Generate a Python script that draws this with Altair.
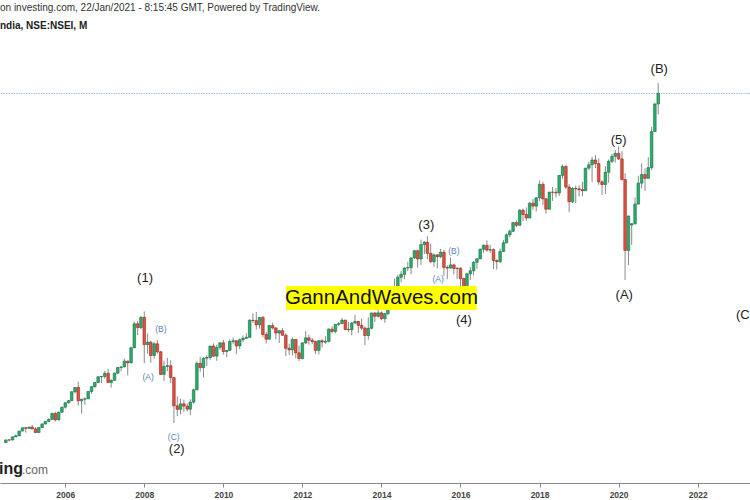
import altair as alt
import pandas as pd

# ---------------- data: monthly NIFTY 50 candles (Jul 2004 .. Jan 2021) ----------------
FIRST_MONTH = "2004-07-01"
opens = [
    1537, 1632, 1631, 1746, 1786, 1958,
    2080, 2057, 2103, 2036, 1902, 2087, 2221, 2312, 2385, 2601, 2371, 2652,
    2837, 3001, 3075, 3403, 3558, 3071, 3128, 3143, 3413, 3588, 3744, 3955,
    3966, 4082, 3745, 3822, 4087, 4295, 4318, 4529, 4464, 5021, 5901, 5763,
    6139, 5137, 5224, 4735, 5165, 4870, 4040, 4333, 4360, 3921, 2885, 2755,
    2959, 2874, 2763, 3021, 3473, 4449, 4291, 4636, 4662, 5084, 4712, 5033,
    5201, 4882, 4922, 5249, 5278, 5087, 5313, 5368, 5402, 6030, 6018, 5863,
    6135, 5506, 5333, 5834, 5749, 5561, 5647, 5482, 5001, 4943, 5326, 4832,
    4624, 5199, 5385, 5296, 5248, 4924, 5279, 5229, 5258, 5703, 5619, 5880,
    5905, 6035, 5693, 5682, 5930, 5986, 5842, 5742, 5471, 5735, 6299, 6176,
    6304, 6089, 6277, 6704, 6696, 7230, 7611, 7721, 7954, 7965, 8322, 8588,
    8283, 8809, 8901, 8491, 8182, 8434, 8368, 8532, 7971, 7949, 8066, 7935,
    7946, 7564, 6987, 7738, 7850, 8160, 8288, 8639, 8786, 8611, 8626, 8224,
    8185, 8561, 8879, 9173, 9304, 9621, 9521, 10077, 9918, 9789, 10335, 10227,
    10531, 11028, 10493, 10114, 10739, 10736, 10714, 11357, 11681, 10930, 10387, 10877,
    10863, 10831, 10793, 11624, 11748, 11923, 11789, 11118, 11023, 11474, 11877, 12056,
    12168, 11962, 11202, 8598, 9533, 9580, 10302, 11073, 11388, 11248, 11642, 12969,
    13982,
]
highs = [
    1639, 1654, 1748, 1829, 1955, 2088,
    2093, 2112, 2183, 2103, 2096, 2230, 2323, 2428, 2640, 2669, 2668, 2843,
    3010, 3102, 3418, 3573, 3775, 3144, 3197, 3430, 3603, 3770, 3970, 3985,
    4167, 4245, 3860, 4105, 4300, 4327, 4620, 4550, 5055, 5976, 6011, 6185,
    6357, 5545, 5272, 5230, 5298, 4908, 4539, 4649, 4558, 3950, 3240, 3147,
    3110, 2968, 3123, 3517, 4509, 4693, 4669, 4743, 5087, 5182, 5138, 5221,
    5311, 4935, 5329, 5399, 5278, 5366, 5477, 5549, 6074, 6284, 6339, 6147,
    6182, 5600, 5872, 5945, 5775, 5657, 5740, 5551, 5170, 5399, 5326, 5099,
    5217, 5630, 5499, 5379, 5279, 5286, 5349, 5448, 5735, 5815, 5885, 5965,
    6111, 6053, 5971, 5963, 6229, 6011, 6093, 5809, 6142, 6309, 6342, 6415,
    6358, 6282, 6730, 6869, 7563, 7700, 7840, 7968, 8180, 8330, 8617, 8626,
    8997, 8941, 9119, 8844, 8490, 8467, 8655, 8622, 8055, 8336, 8116, 7979,
    7972, 7600, 7777, 7992, 8213, 8308, 8674, 8819, 8968, 8806, 8669, 8274,
    8672, 8982, 9218, 9367, 9649, 9709, 10115, 10138, 10179, 10384, 10490, 10553,
    11172, 11118, 10526, 10760, 10930, 10893, 11366, 11760, 11751, 11035, 10922, 10985,
    10988, 11119, 11630, 11856, 12042, 12103, 11982, 11182, 11695, 11945, 12158, 12294,
    12430, 12246, 11433, 9889, 9598, 10553, 11341, 11794, 11618, 12025, 13146, 14025,
    14754,
]
lows = [
    1520, 1580, 1610, 1740, 1772, 1950,
    1900, 2040, 2026, 1896, 1900, 2070, 2200, 2300, 2380, 2307, 2340, 2630,
    2780, 2960, 3070, 3340, 2896, 2595, 2920, 3140, 3330, 3550, 3730, 3720,
    3880, 3745, 3554, 3807, 4048, 4155, 4300, 4002, 4450, 5000, 5487, 5700,
    4448, 4803, 4468, 4628, 4800, 4022, 3790, 4159, 3715, 2252, 2502, 2570,
    2661, 2678, 2539, 2965, 3478, 4143, 3918, 4353, 4576, 4687, 4539, 4944,
    4766, 4675, 4935, 5161, 4786, 4961, 5225, 5349, 5403, 5937, 5690, 5721,
    5416, 5178, 5348, 5693, 5329, 5196, 5453, 4720, 4758, 4728, 4640, 4531,
    4588, 5159, 5135, 5154, 4789, 4770, 5032, 5164, 5215, 5548, 5548, 5823,
    5935, 5671, 5604, 5477, 5910, 5566, 5675, 5118, 5318, 5700, 5972, 6130,
    6027, 5933, 6212, 6650, 6638, 7239, 7422, 7540, 7841, 7723, 8290, 7961,
    8065, 8470, 8269, 8145, 7997, 7940, 8315, 7667, 7540, 7930, 7714, 7551,
    7241, 6826, 7035, 7516, 7678, 7927, 8287, 8518, 8555, 8506, 7916, 7893,
    8133, 8537, 8860, 9075, 9269, 9448, 9543, 9686, 9688, 9831, 10094, 10033,
    10405, 10276, 9952, 10111, 10418, 10550, 10605, 11234, 10850, 10005, 10341, 10334,
    10584, 10586, 10817, 11549, 11108, 11625, 11010, 10637, 10670, 11090, 11803, 11832,
    11929, 11176, 7511, 8055, 8806, 9544, 10300, 10882, 10790, 11348, 11557, 12962,
    13597,
]
closes = [
    1632, 1631, 1746, 1786, 1958, 2080,
    2057, 2103, 2036, 1902, 2087, 2221, 2312, 2385, 2601, 2371, 2652, 2837,
    3001, 3075, 3403, 3558, 3071, 3128, 3143, 3413, 3588, 3744, 3955, 3966,
    4082, 3745, 3822, 4087, 4295, 4318, 4529, 4464, 5021, 5901, 5763, 6139,
    5137, 5224, 4735, 5165, 4870, 4040, 4333, 4360, 3921, 2885, 2755, 2959,
    2874, 2763, 3021, 3473, 4449, 4291, 4636, 4662, 5084, 4712, 5033, 5201,
    4882, 4922, 5249, 5278, 5087, 5313, 5368, 5402, 6030, 6018, 5863, 6135,
    5506, 5333, 5834, 5749, 5561, 5647, 5482, 5001, 4943, 5326, 4832, 4624,
    5199, 5385, 5296, 5248, 4924, 5279, 5229, 5258, 5703, 5619, 5880, 5905,
    6035, 5693, 5682, 5930, 5986, 5842, 5742, 5471, 5735, 6299, 6176, 6304,
    6089, 6277, 6704, 6696, 7230, 7611, 7721, 7954, 7965, 8322, 8588, 8283,
    8809, 8901, 8491, 8182, 8434, 8368, 8532, 7971, 7949, 8066, 7935, 7946,
    7564, 6987, 7738, 7850, 8160, 8288, 8639, 8786, 8611, 8626, 8224, 8185,
    8561, 8879, 9173, 9304, 9621, 9521, 10077, 9918, 9789, 10335, 10227, 10531,
    11028, 10493, 10114, 10739, 10736, 10714, 11357, 11681, 10930, 10387, 10877, 10863,
    10831, 10793, 11624, 11748, 11923, 11789, 11118, 11023, 11474, 11877, 12056, 12168,
    11962, 11202, 8598, 9860, 9580, 10302, 11073, 11388, 11248, 11642, 12969, 13982,
    14371,
]
LAST_PRICE = 14371

# Elliott wave labels (big) and sub-wave labels (small, blue)
wave_labels = ["(1)", "(2)", "(3)", "(4)", "(5)", "(A)", "(B)", "(C)"]
wave_dates = ["2008-01-08", "2008-10-27", "2015-02-19", "2016-02-01",
              "2020-01-01", "2020-02-22", "2021-01-11", "2023-03-14"]
wave_prices = [7585, 1298, 9533, 6040, 12658, 6960, 15268, 6224]

sub_labels = ["(A)", "(B)", "(C)", "(A)", "(B)"]
sub_dates = ["2008-02-05", "2008-06-02", "2008-09-29", "2015-06-08", "2015-11-01"]
sub_prices = [3945, 5713, 1739, 7548, 8581]

banner_text = ["GannAndWaves.com"]
banner_date = ["2014-01-01"]
banner_price = [6849]
banner_x1 = ["2011-08-03"]
banner_x2 = ["2016-05-30"]
banner_y1 = [6408]
banner_y2 = [7290]

year_ticks = [2006, 2008, 2010, 2012, 2014, 2016, 2018, 2020, 2022]

# ---------------- frame ----------------
months = pd.date_range(FIRST_MONTH, periods=len(opens), freq="MS")
df = pd.DataFrame({"date": months, "open": opens, "high": highs,
                   "low": lows, "close": closes})
df["up"] = df["close"] >= df["open"]

waves = pd.DataFrame({"label": wave_labels, "date": pd.to_datetime(wave_dates),
                      "price": wave_prices})
subs = pd.DataFrame({"label": sub_labels, "date": pd.to_datetime(sub_dates),
                     "price": sub_prices})
banner = pd.DataFrame({"label": banner_text, "date": pd.to_datetime(banner_date),
                       "price": banner_price, "x1": pd.to_datetime(banner_x1),
                       "x2": pd.to_datetime(banner_x2), "y1": banner_y1, "y2": banner_y2})

FONT = "Liberation Sans"

xscale = alt.Scale(domain=[alt.DateTime(year=2004, month=6, date=23),
                           alt.DateTime(year=2023, month=3, date=14)])
yscale = alt.Scale(domain=[48, 17805], nice=False, zero=False)

xaxis = alt.Axis(values=[alt.DateTime(year=y) for y in year_ticks], format="%Y",
                 grid=False, title=None, domainColor="#888888", tickColor="#888888",
                 tickSize=4, labelFontSize=8.5, labelColor="#444444", labelFont=FONT,
                 labelFontWeight="bold", labelPadding=3)


def X(field="date"):
    return alt.X(f"{field}:T", scale=xscale, axis=xaxis)


def Y(field):
    return alt.Y(f"{field}:Q", scale=yscale, axis=None)


base = alt.Chart(df)

last_line = alt.Chart(pd.DataFrame({"price": [LAST_PRICE]})).mark_rule(
    color="#9ab6f0", strokeWidth=1, strokeDash=[1.5, 1]
).encode(y=Y("price"))

wicks = base.mark_rule(color="#8a8a8a", strokeWidth=1).encode(
    x=X(), y=Y("low"), y2="high:Q")

up_bodies = base.transform_filter("datum.up").mark_bar(
    size=2.6, fill="#27b06c", stroke="#1d6a44", strokeWidth=0.6
).encode(x=X(), y=Y("open"), y2="close:Q")

down_bodies = base.transform_filter("!datum.up").mark_bar(
    size=2.6, fill="#e4513f", stroke="#8e2b20", strokeWidth=0.6
).encode(x=X(), y=Y("open"), y2="close:Q")

wave_text = alt.Chart(waves).mark_text(
    fontSize=13, font=FONT, color="#222222"
).encode(x=X(), y=Y("price"), text="label:N")

sub_text = alt.Chart(subs).mark_text(
    fontSize=8.5, font=FONT, color="#5b7fb8"
).encode(x=X(), y=Y("price"), text="label:N")

banner_rect = alt.Chart(banner).mark_rect(color="#ffff00").encode(
    x=X("x1"), x2="x2:T", y=Y("y1"), y2="y2:Q")

banner_label = alt.Chart(banner).mark_text(
    fontSize=20.5, font=FONT, color="#111111"
).encode(x=X(), y=Y("price"), text="label:N")

hdr = pd.DataFrame({"t": ["on investing.com, 22/Jan/2021 - 8:15:45 GMT, Powered by TradingView."]})
header1 = alt.Chart(hdr).mark_text(
    fontSize=10, font=FONT, color="#333333", align="left", baseline="middle"
).encode(x=alt.value(0), y=alt.value(8), text="t:N")

hdr2 = pd.DataFrame({"t": ["ndia, NSE:NSEI, M"]})
header2 = alt.Chart(hdr2).mark_text(
    fontSize=10, font=FONT, fontWeight="bold", color="#222222", align="left",
    baseline="middle"
).encode(x=alt.value(0), y=alt.value(26), text="t:N")

logo1 = alt.Chart(pd.DataFrame({"t": ["ing"]})).mark_text(
    fontSize=16, font=FONT, fontWeight="bold", color="#222222", align="left",
    baseline="middle"
).encode(x=alt.value(-1), y=alt.value(469), text="t:N")

logo2 = alt.Chart(pd.DataFrame({"t": [".com"]})).mark_text(
    fontSize=12, font=FONT, color="#666666", align="left", baseline="middle"
).encode(x=alt.value(22), y=alt.value(470), text="t:N")

chart = alt.layer(
    last_line, wicks, up_bodies, down_bodies, banner_rect, banner_label,
    wave_text, sub_text, header1, header2, logo1, logo2
).properties(
    width=750, height=483, autosize="none",
    padding={"left": 0, "right": 0, "top": 0, "bottom": 17},
    background="white"
).configure_view(stroke=None)

chart.save("out.html", embed_options={"renderer": "svg", "actions": False})
